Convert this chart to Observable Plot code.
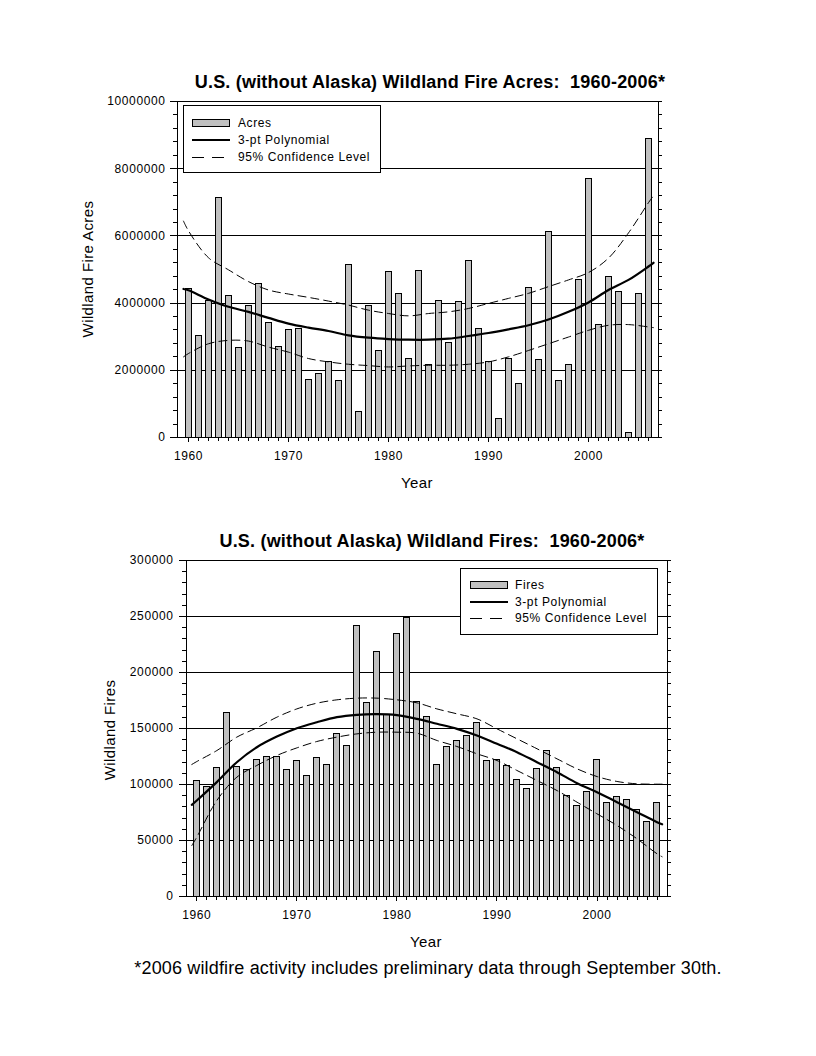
<!DOCTYPE html>
<html>
<head>
<meta charset="utf-8">
<script src="https://cdn.jsdelivr.net/npm/d3@7"></script>
<script src="https://cdn.jsdelivr.net/npm/@observablehq/plot@0.6"></script>
<style>
  html, body { margin: 0; padding: 0; background: white; }
  #page { position: relative; width: 816px; height: 1056px; background: white; font-family: "Liberation Sans", Arial, sans-serif; color: black; overflow: hidden; }
  .abs { position: absolute; white-space: nowrap; }
  .title { font-weight: bold; font-size: 18px; letter-spacing: 0.2px; text-align: center; line-height: 22px; }
  .axlab { font-size: 15px; letter-spacing: 0.4px; line-height: 18px; text-align: center; }
  .legend { border: 1px solid black; background: white; box-sizing: border-box; }
  .legtext { font-size: 12px; letter-spacing: 0.6px; line-height: 16px; }
  svg text { letter-spacing: 0.6px; }
  svg g[aria-label="rule"], svg g[aria-label="frame"], svg g[aria-label="rect"], svg g[aria-label$="tick"] { shape-rendering: crispEdges; }
</style>
</head>
<body>
<div id="page"></div>
<script>
// ---------------- DATA ----------------
const years = d3.range(1960, 2007);

const acres = [4410000, 3030000, 4060000, 7140000, 4210000, 2660000, 3910000, 4570000, 3420000, 2680000,
               3190000, 3220000, 1700000, 1880000, 2240000, 1670000, 5140000, 770000, 3910000, 2560000,
               4930000, 4270000, 2330000, 4960000, 2150000, 4060000, 2820000, 4020000, 5260000, 3220000,
               2260000, 550000, 2330000, 1600000, 4450000, 2300000, 6120000, 1670000, 2150000, 4690000,
               7700000, 3340000, 4770000, 4330000, 140000, 4270000, 8880000];

const fires = [103300, 97900, 114900, 164000, 115800, 113100, 122000, 124700, 124700, 113100,
               121100, 107700, 123800, 117600, 145200, 134500, 241600, 172900, 218400, 162200,
               234500, 248800, 173800, 160700, 117800, 133600, 139000, 143700, 154500, 121400,
               122300, 116100, 103600, 96100, 113400, 129500, 114300, 89300, 81200, 93700,
               122300, 83900, 88400, 86000, 76800, 66100, 83900];

// curve sample positions
const curveYears = [1959.5, 1960, 1962, 1964, 1966, 1968, 1970, 1972, 1974, 1976, 1978, 1980, 1982,
                    1984, 1986, 1988, 1990, 1992, 1994, 1996, 1998, 2000, 2002, 2004, 2006, 2006.5];

// (millions of acres)
const acresPoly  = [4.42, 4.38, 4.11, 3.89, 3.74, 3.56, 3.39, 3.27, 3.17, 3.04, 2.97, 2.93, 2.91,
                    2.91, 2.94, 3.02, 3.11, 3.22, 3.34, 3.51, 3.74, 4.02, 4.39, 4.69, 5.09, 5.20];
const acresUpper = [6.44, 6.15, 5.35, 4.99, 4.64, 4.39, 4.27, 4.17, 4.06, 3.94, 3.79, 3.69, 3.62,
                    3.69, 3.74, 3.84, 3.99, 4.14, 4.29, 4.49, 4.69, 4.91, 5.34, 6.09, 6.99, 7.20];
const acresLower = [2.40, 2.50, 2.79, 2.89, 2.87, 2.69, 2.54, 2.35, 2.25, 2.18, 2.14, 2.10, 2.13,
                    2.15, 2.15, 2.18, 2.25, 2.40, 2.59, 2.79, 2.99, 3.19, 3.34, 3.36, 3.29, 3.27];

const firesPoly  = [81800, 85700, 102100, 119900, 133300, 142800, 150300, 155600, 160100, 162200, 162800, 161900, 158600,
                    154200, 149700, 143700, 136300, 128900, 119900, 111000, 101200, 93100, 84200, 75300, 66400, 64500];
const firesUpper = [117900, 120500, 130300, 142300, 150600, 160100, 167500, 172600, 175600, 177100, 177100, 175600, 172900,
                    167500, 163100, 158600, 149700, 140800, 131900, 122900, 114000, 107100, 102700, 100600, 100300, 100300];
const firesLower = [45500, 53000, 85700, 106500, 117000, 125900, 132700, 138400, 142300, 145200, 146700, 146700, 145800,
                    139300, 133900, 127400, 121400, 112500, 103600, 94600, 84200, 73800, 63400, 51500, 38100, 35500];

const acresMajorTicks = [0, 2000000, 4000000, 6000000, 8000000, 10000000];
const acresMinorTicks = d3.range(0, 10000001, 400000);
const firesMajorTicks = [0, 50000, 100000, 150000, 200000, 250000, 300000];
const firesMinorTicks = d3.range(0, 300001, 10000);
const decadeTicks = [1960, 1970, 1980, 1990, 2000];

// ---------------- CHART BUILDER ----------------
function makeChart({values, poly, upper, lower, scale, yMax, major, minor, xDomain, marginLeft, width, tickPad}) {
  const bars = years.map((yr, i) => ({year: yr, value: values[i]}));
  const curve = (arr) => curveYears.map((yr, i) => ({year: yr, value: arr[i] * scale}));
  return Plot.plot({
    width, height: 407,
    marginLeft, marginRight: 20, marginTop: 11, marginBottom: 60,
    style: {fontFamily: '"Liberation Sans", Arial, sans-serif', fontSize: "12px", color: "black", background: "transparent", overflow: "visible"},
    x: {domain: xDomain, label: null},
    y: {domain: [0, yMax], label: null},
    marks: [
      Plot.ruleY(major.filter(v => v > 0 && v < yMax), {stroke: "black", strokeWidth: 1}),
      Plot.rectY(bars, {x1: d => d.year - 0.3, x2: d => d.year + 0.3, y1: 0, y2: "value",
                        fill: "#c0c0c0", stroke: "black", strokeWidth: 1}),
      Plot.line(curve(lower), {x: "year", y: "value", stroke: "black", strokeWidth: 1, strokeDasharray: "8,5", curve: "catmull-rom"}),
      Plot.line(curve(upper), {x: "year", y: "value", stroke: "black", strokeWidth: 1, strokeDasharray: "8,5", curve: "catmull-rom"}),
      Plot.line(curve(poly),  {x: "year", y: "value", stroke: "black", strokeWidth: 2.2, curve: "catmull-rom"}),
      Plot.frame({stroke: "black", strokeWidth: 1}),
      Plot.axisY({ticks: minor, tickSize: 4, tickFormat: () => "", label: null}),
      Plot.axisY({ticks: major, tickSize: 7, tickPadding: tickPad, tickFormat: d => String(d), label: null}),
      Plot.axisY({anchor: "right", ticks: minor, tickSize: 3, tickFormat: () => "", label: null}),
      Plot.axisX({ticks: years, tickSize: 4, tickFormat: () => "", label: null}),
      Plot.axisX({ticks: decadeTicks, tickSize: 5, tickPadding: 9, tickFormat: d => String(d), label: null})
    ]
  });
}

const page = document.getElementById("page");
function addEl(html, style, cls) {
  const d = document.createElement("div");
  d.className = "abs " + (cls || "");
  d.innerHTML = html;
  Object.assign(d.style, style);
  page.appendChild(d);
  return d;
}

function legend(x, y, w, h, swLeft, swTop, textLeft, rows, label) {
  addEl("", {left: x + "px", top: y + "px", width: w + "px", height: h + "px"}, "legend");
  addEl("", {left: swLeft + "px", top: swTop + "px", width: "38px", height: "8px", background: "#c0c0c0", border: "1px solid black", boxSizing: "border-box"});
  addEl("", {left: swLeft + "px", top: (rows[1] - 1) + "px", width: "38px", height: "2px", background: "black"});
  addEl("", {left: swLeft + "px", top: (rows[2]) + "px", width: "12px", height: "1px", background: "black"});
  addEl("", {left: (swLeft + 20) + "px", top: (rows[2]) + "px", width: "12px", height: "1px", background: "black"});
  addEl(label, {left: textLeft + "px", top: (rows[0] - 8) + "px"}, "legtext");
  addEl("3-pt Polynomial", {left: textLeft + "px", top: (rows[1] - 8) + "px"}, "legtext");
  addEl("95% Confidence Level", {left: textLeft + "px", top: (rows[2] - 8) + "px"}, "legtext");
}

// ---------------- TOP CHART ----------------
const top1 = makeChart({values: acres, poly: acresPoly, upper: acresUpper, lower: acresLower, scale: 1e6,
  yMax: 10000000, major: acresMajorTicks, minor: acresMinorTicks, xDomain: [1958.9, 2007.0],
  marginLeft: 177, width: 678, tickPad: 5});
Object.assign(top1.style, {position: "absolute", left: "0px", top: "90px"});
page.appendChild(top1);

addEl("U.S. (without Alaska) Wildland Fire Acres:&nbsp; 1960-2006*", {left: "80px", width: "700px", top: "71px"}, "title");
addEl("Year", {left: "367px", width: "100px", top: "474px"}, "axlab");
addEl("Wildland Fire Acres", {left: "-12px", width: "200px", top: "260px", transform: "rotate(-90deg)"}, "axlab");
legend(183, 105, 198, 68, 192, 119, 238, [123, 140, 157], "Acres");

// ---------------- BOTTOM CHART ----------------
const bot = makeChart({values: fires, poly: firesPoly, upper: firesUpper, lower: firesLower, scale: 1,
  yMax: 300000, major: firesMajorTicks, minor: firesMinorTicks, xDomain: [1958.97, 2007.04],
  marginLeft: 186, width: 687, tickPad: 6});
Object.assign(bot.style, {position: "absolute", left: "0px", top: "549px"});
page.appendChild(bot);

addEl("U.S. (without Alaska) Wildland Fires:&nbsp; 1960-2006*", {left: "82px", width: "700px", top: "530px"}, "title");
addEl("Year", {left: "376px", width: "100px", top: "933px"}, "axlab");
addEl("Wildland Fires", {left: "10px", width: "200px", top: "721px", transform: "rotate(-90deg)"}, "axlab");
legend(460, 568, 198, 67, 470, 581, 515, [585, 602, 618], "Fires");

addEl("*2006 wildfire activity includes preliminary data through September 30th.",
  {left: "28px", width: "800px", top: "957px", fontSize: "18px", letterSpacing: "0.15px", lineHeight: "22px", textAlign: "center"});
</script>
</body>
</html>
